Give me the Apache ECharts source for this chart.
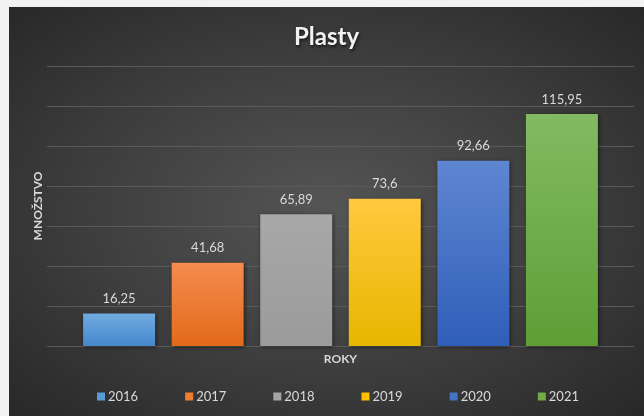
<!DOCTYPE html>
<html><head><meta charset="utf-8">
<script src="https://cdn.jsdelivr.net/npm/echarts@6/dist/echarts.min.js"></script>
<style>
html,body{margin:0;padding:0;background:#f2f2f2;width:644px;height:416px;overflow:hidden}
#bg{position:absolute;left:9px;top:7px;width:635px;height:409px;background:radial-gradient(ellipse at 50% 50%, #555555 0%, #3d3d3d 55%, #282828 100%)}
#c{position:absolute;left:9px;top:7px;width:635px;height:409px}
</style></head><body>
<div id="bg"></div><div id="c"></div>
<script>
const years = ['2016','2017','2018','2019','2020','2021'];
const values = [16.25, 41.68, 65.89, 73.6, 92.66, 115.95];
const baseColors = ['#5b9bd5','#ed7d31','#a5a5a5','#ffc000','#4472c4','#70ad47'];
const topColors = ['#72abe0','#f58c4f','#a8a8a8','#ffc93e','#5f86d2','#82ba62'];
const botColors = ['#4488cc','#e2691a','#9b9b9b','#e5b700','#2f5eb8','#5e9e35'];

const chart = echarts.init(document.getElementById('c'));
const series = years.map((y,i)=>({
  name: y,
  type: 'bar',
  data: [values[i]],
  barWidth: 72,
  barGap: '23%',
  itemStyle: {
    color: new echarts.graphic.LinearGradient(0,0,0,1,[{offset:0,color:topColors[i]},{offset:1,color:botColors[i]}]),
    shadowBlur: 4, shadowColor: 'rgba(0,0,0,0.55)', shadowOffsetX: 1, shadowOffsetY: 1
  },
  label: {
    show: true, position: 'top', distance: 8, color: '#d9d9d9',
    fontFamily: 'Lato', fontSize: 13,
    formatter: p => String(p.value).replace('.', ',')
  }
}));
chart.setOption({
  backgroundColor: 'transparent',
  animation: false,
  title: {
    text: 'Plasty', left: 'center', top: 13,
    textStyle: {color:'#f2f2f2', fontFamily:'Lato', fontWeight:'bold', fontSize:24,
      textShadowColor:'rgba(0,0,0,0.6)', textShadowBlur:3, textShadowOffsetX:1, textShadowOffsetY:2}
  },
  legend: {
    bottom: 8, left: 83, icon: 'rect', itemWidth: 8, itemHeight: 8, itemGap: 47,
    textStyle: {color:'#d9d9d9', fontFamily:'Lato', fontSize:13, padding:[0,0,0,-2]},
    data: years.map((y,i)=>({name:y, itemStyle:{color:baseColors[i]}}))
  },
  grid: {left: 38, right: 10, top: 59, bottom: 70},
  xAxis: {
    type: 'category', data: [''],
    axisLine:{show:false}, axisTick:{show:false}, axisLabel:{show:false},
    name: 'ROKY', nameLocation: 'middle', nameGap: 7,
    nameTextStyle: {color:'#d9d9d9', fontFamily:'Lato', fontWeight:'bold', fontSize:12}
  },
  yAxis: {
    type: 'value', min: 0, max: 140, interval: 20,
    axisLine:{show:false}, axisTick:{show:false}, axisLabel:{show:false},
    splitLine: {lineStyle:{color:'#5a5a5a', width:1}},
    name: 'MNOŽSTVO', nameLocation: 'middle', nameGap: 3, nameRotate: 90,
    nameTextStyle: {color:'#d9d9d9', fontFamily:'Lato', fontWeight:'bold', fontSize:12}
  },
  series: series
});
</script></body></html>
